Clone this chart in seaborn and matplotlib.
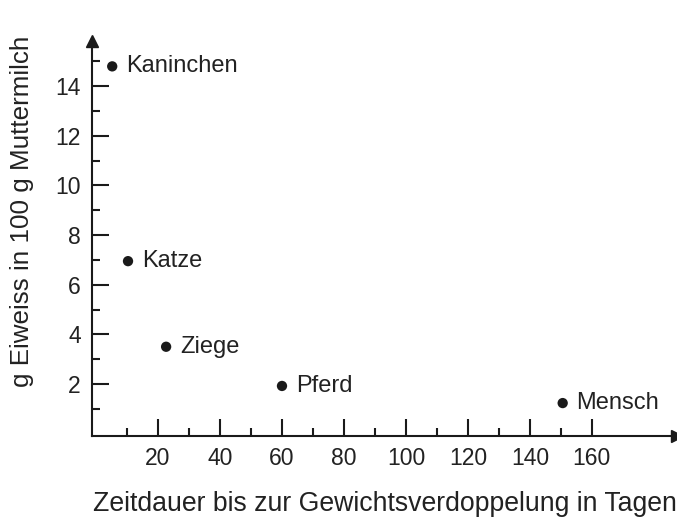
import matplotlib
matplotlib.use("Agg")
import matplotlib.pyplot as plt
import seaborn as sns
import pandas as pd
from matplotlib.ticker import FixedLocator

# Milk protein vs. days to double birth weight
species = ["Kaninchen", "Katze", "Ziege", "Pferd", "Mensch"]
days = [5.2, 10.3, 22.6, 60.0, 150.6]
protein = [14.8, 6.95, 3.5, 1.92, 1.23]

x_ticks = [20, 40, 60, 80, 100, 120, 140, 160]
x_minor = [10, 30, 50, 70, 90, 110, 130, 150]
y_ticks = [2, 4, 6, 8, 10, 12, 14]
y_minor = [1, 3, 5, 7, 9, 11, 13, 15]

df = pd.DataFrame({"Tier": species, "Tage": days, "Eiweiss": protein})

sns.set_theme(style="white")
plt.rcParams["font.family"] = ["Liberation Sans", "DejaVu Sans"]

ink = "#1a1a1a"
text_col = "#222222"

fig = plt.figure(figsize=(6.77, 5.21), dpi=100)
ax = fig.add_axes([0.136, 0.163, 0.864, 0.762])

sns.scatterplot(data=df, x="Tage", y="Eiweiss", ax=ax, color=ink, s=55,
                edgecolor="none", legend=False)

for name, xv, yv in zip(species, days, protein):
    ax.annotate(name, (xv, yv), xytext=(10, 0), textcoords="offset points",
                ha="left", va="center", fontsize=17, color=text_col)

ax.set_xlim(-1.3, 187.5)
ax.set_ylim(-0.1, 15.9)

ax.set_xticks(x_ticks)
ax.set_yticks(y_ticks)
ax.xaxis.set_minor_locator(FixedLocator(x_minor))
ax.yaxis.set_minor_locator(FixedLocator(y_minor))
ax.tick_params(axis="both", which="major", direction="in", length=12, width=1.5,
               color=ink, labelsize=16.5, labelcolor=text_col, pad=8)
ax.tick_params(axis="both", which="minor", direction="in", length=6, width=1.5,
               color=ink)
ax.tick_params(axis="x", which="both", bottom=True, top=False)
ax.tick_params(axis="y", which="both", left=True, right=False)

for side in ["top", "right"]:
    ax.spines[side].set_visible(False)
for side in ["left", "bottom"]:
    ax.spines[side].set_color(ink)
    ax.spines[side].set_linewidth(1.5)

# arrow heads at the ends of both axes
ax.plot(1, -0.1, marker=">", color=ink, markersize=8, clip_on=False,
        transform=ax.get_yaxis_transform())
ax.plot(-1.3, 0.995, marker="^", color=ink, markersize=8, clip_on=False,
        transform=ax.get_xaxis_transform())

ax.set_xlabel("")
ax.set_ylabel("")
fig.text(0.137, 0.033, "Zeitdauer bis zur Gewichtsverdoppelung in Tagen",
         ha="left", va="center", fontsize=19.2, color=text_col)
fig.text(0.033, 0.595, "g Eiweiss in 100 g Muttermilch", rotation=90,
         ha="center", va="center", fontsize=18.7, color=text_col)

fig.savefig("out.png", dpi=100)
